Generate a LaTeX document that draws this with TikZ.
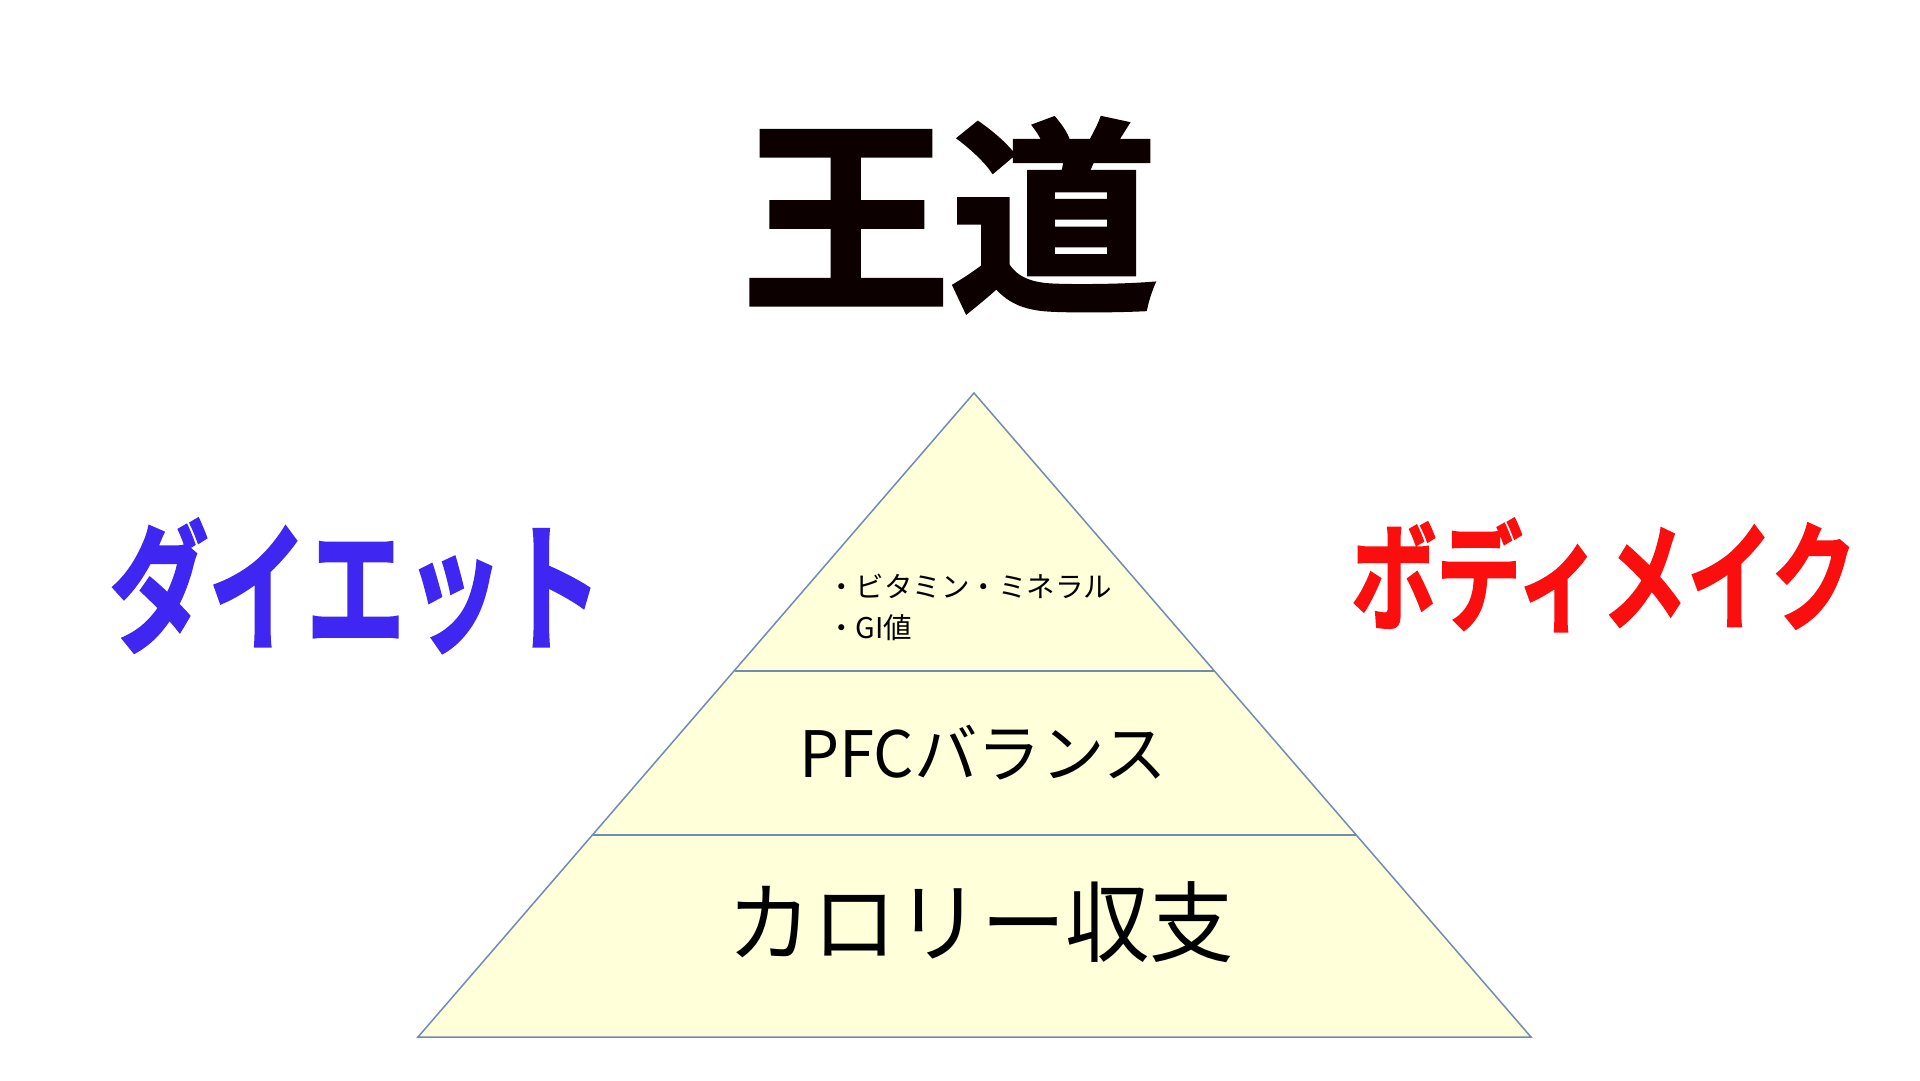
\documentclass[tikz,border=0pt]{standalone}
\usepackage{fontspec}
\newfontfamily\cjk{Noto Sans CJK JP}
\newfontfamily\cjkb{Noto Sans CJK JP Bold}[FakeBold=2]
\definecolor{edgec}{RGB}{112,140,178}
\definecolor{fillc}{RGB}{255,255,217}
\definecolor{titlec}{RGB}{12,0,0}
\definecolor{bluec}{RGB}{63,38,240}
\definecolor{redc}{RGB}{250,14,14}
\tikzset{
  edge/.style={draw=edgec,line width=1.5pt},
  layertext/.style={anchor=base,inner sep=0pt,text=black},
  bigword/.style={anchor=base,inner sep=0pt}
}
\begin{document}
\begin{tikzpicture}[x=1pt,y=-1pt]
\useasboundingbox[fill=white] (0,0) rectangle (1920,1080);
% pyramid
\coordinate (apex) at (974,393);
\coordinate (bl) at (418,1037);
\coordinate (br) at (1531,1037);
\coordinate (d1l) at (734.5,671);
\coordinate (d1r) at (1213.5,671);
\coordinate (d2l) at (592.5,835);
\coordinate (d2r) at (1355.5,835);
\fill[fillc] (apex) -- (br) -- (bl) -- cycle;
\draw[edge,line join=miter] (apex) -- (br) -- (bl) -- cycle;
\draw[edge] (d1l) -- (d1r);
\draw[edge] (d2l) -- (d2r);
% title
\node[bigword,text=titlec] (title) at (950,295) {\fontsize{208}{208}\cjkb 王道};
% side words
\node[bigword,text=bluec] (diet) at (356,640) {\fontsize{140}{140}\cjkb\scalebox{0.705}[1]{ダイエット}};
\node[bigword,text=redc] (body) at (1604,621) {\fontsize{118}{118}\cjkb\scalebox{0.725}[1]{ボディメイク}};
% layer texts
\node[layertext,anchor=base west] (t1) at (827,597) {\fontsize{28.5}{28.5}\cjk ・ビタミン・ミネラル};
\node[layertext,anchor=base west] (t2) at (827,638) {\fontsize{28.5}{28.5}\cjk ・GI値};
\node[layertext] (pfc) at (983,777) {\fontsize{64}{64}\cjk\scalebox{0.99}[1]{PFCバランス}};
\node[layertext] (cal) at (981,955) {\fontsize{88}{88}\cjk\scalebox{0.96}[1]{カロリー収支}};
\end{tikzpicture}
\end{document}
